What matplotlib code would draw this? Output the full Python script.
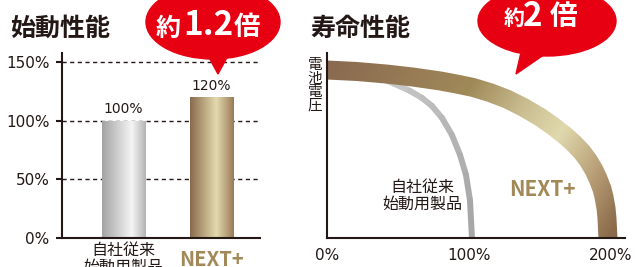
import matplotlib
matplotlib.use('Agg')
import matplotlib.pyplot as plt
import numpy as np
from matplotlib.collections import LineCollection
from matplotlib.colors import LinearSegmentedColormap
from matplotlib.patches import Ellipse, Polygon

# start performance (bars)
categories = ['自社従来\n始動用製品', 'NEXT+']
start_values = [100, 120]
start_ticks = [0, 50, 100, 150]
start_ticklabels = ['0%', '50%', '100%', '150%']

# life performance (voltage vs. life %)
old_life = [0, 19.7, 37.3, 47.9, 58.5, 66.9, 73.9, 81.0, 88.0, 93.7, 97.9, 100.7, 102.1]
old_volt = [0.908, 0.903, 0.865, 0.832, 0.795, 0.757, 0.714, 0.649, 0.557, 0.449, 0.341,
            0.205, 0.0]
new_life = [0, 21.1, 42.3, 60.6, 79.6, 91.5, 102.8, 114.8, 126.8, 138.7, 150.0, 159.2,
            167.6, 173.9, 179.6, 183.8, 188.0, 190.8, 193.7, 195.1, 196.5, 197.2, 197.9]
new_volt = [0.908, 0.900, 0.886, 0.870, 0.849, 0.832, 0.814, 0.786, 0.751, 0.705, 0.654,
            0.605, 0.554, 0.511, 0.465, 0.422, 0.368, 0.322, 0.265, 0.222, 0.162, 0.108, 0.0]
life_ticks = [0, 100, 200]
life_ticklabels = ['0%', '100%', '200%']

DARK = '#231815'
GOLD_TXT = '#a38858'
RED = '#e60012'
NUMFONT = 'DejaVu Sans'

plt.rcParams['font.family'] = ['Noto Sans CJK JP', 'DejaVu Sans']

fig = plt.figure(figsize=(6.36, 2.67), dpi=100)
W, H = 636.0, 267.0


def px_axes(x0, x1, ytop, ybot):
	return fig.add_axes([x0 / W, 1 - ybot / H, (x1 - x0) / W, (ybot - ytop) / H])


def style_spines(ax):
	for s in ['top', 'right']:
		ax.spines[s].set_visible(False)
	for s in ['left', 'bottom']:
		ax.spines[s].set_color(DARK)
		ax.spines[s].set_linewidth(1.5)
		ax.spines[s].set_zorder(5)
	ax.patch.set_alpha(0)


# ---------------- left: bars ----------------
ax1 = px_axes(62, 260, 53, 238)
style_spines(ax1)
xpos = np.arange(len(categories))
bars = ax1.bar(xpos, start_values, width=0.49, color='none', zorder=3)

bar_stops = [
	[(0, '#a3a3a3'), (0.68, '#f5f5f5'), (1, '#b3b3b3')],
	[(0, '#8a6a4c'), (0.6, '#e3daad'), (1, '#9a7a58')],
]
grad = np.linspace(0, 1, 256).reshape(1, -1)
for b, stops in zip(bars, bar_stops):
	cmap = LinearSegmentedColormap.from_list('g', stops)
	im = ax1.imshow(grad, extent=(b.get_x(), b.get_x() + b.get_width(), 0, b.get_height()),
					aspect='auto', cmap=cmap, zorder=3)
	im.set_clip_path(b)

for y in start_ticks[1:]:
	ax1.axhline(y, color=DARK, lw=1.0, ls=(0, (3, 2.5)), zorder=1)

ax1.set_xlim(-0.699, 1.551)
ax1.set_ylim(0, 157.7)
ax1.set_yticks(start_ticks)
ax1.set_yticklabels(start_ticklabels, family=NUMFONT)
ax1.tick_params(axis='y', length=4, width=1.5, color=DARK, pad=5, labelsize=11, labelcolor=DARK)
ax1.set_xticks([])

for x, v in zip(xpos, start_values):
	ax1.text(x, v + 4, '%d%%' % v, ha='center', va='bottom', fontsize=10, color=DARK,
			 family=NUMFONT)

ax1.annotate(categories[0], xy=(0, 0), xycoords=ax1.get_xaxis_transform(),
			 xytext=(0, -3), textcoords='offset points', ha='center', va='top',
			 fontsize=11.5, color=DARK, linespacing=0.95)
ax1.annotate(categories[1], xy=(1, 0), xycoords=ax1.get_xaxis_transform(),
			 xytext=(0, -20.5), textcoords='offset points', ha='center', va='baseline',
			 fontsize=14.5, fontweight='bold', color=GOLD_TXT)

# ---------------- right: life curves ----------------
ax2 = px_axes(327, 625, 53, 238)
style_spines(ax2)
ax2.set_xlim(0, 209.9)
ax2.set_ylim(0, 1)

# old product: thin silver line
pts = np.column_stack([old_life, old_volt])
segs = np.stack([pts[:-1], pts[1:]], axis=1)
silver = LinearSegmentedColormap.from_list('s', ['#d2d2d2', '#a7a7a7'])
lc = LineCollection(segs, colors=silver(np.linspace(0, 1, len(segs))), linewidths=4.3,
					capstyle='round', joinstyle='round', zorder=2)
ax2.add_collection(lc)

# NEXT+: wide band, outline built in pixel space, filled with a diagonal gradient
p = ax2.transData.transform(np.column_stack([new_life, new_volt]))
tg = np.gradient(p, axis=0)
tg = tg / np.linalg.norm(tg, axis=1)[:, None]
nrm = np.column_stack([-tg[:, 1], tg[:, 0]])
hw = 9.5
outline = np.vstack([p + hw * nrm, (p - hw * nrm)[::-1]])
band = Polygon(ax2.transData.inverted().transform(outline), closed=True,
			   facecolor='none', edgecolor='none')
ax2.add_patch(band)

ny, nx = 185, 298
rows, cols = np.mgrid[0:ny, 0:nx]
t = np.clip((cols + 0.6 * rows - 10) / 382.0, 0, 1)
gold = LinearSegmentedColormap.from_list(
	'gold', [(0, '#8a6a50'), (0.4, '#a08959'), (0.58, '#cbbf92'), (0.71, '#e0d9ad'),
			 (0.86, '#b9a078'), (1, '#8b6a4a')])
im2 = ax2.imshow(gold(t), extent=(0, 209.9, 0, 1), origin='upper', aspect='auto', zorder=3)
im2.set_clip_path(band)
ax2.set_xlim(0, 209.9)
ax2.set_ylim(0, 1)

ax2.set_yticks([])
ax2.set_xticks(life_ticks)
ax2.set_xticklabels(life_ticklabels, family=NUMFONT)
ax2.tick_params(axis='x', length=0, pad=7, labelsize=11, labelcolor=DARK)

ax2.text(66.9, 0.227, '自社従来\n始動用製品', ha='center', va='center', fontsize=11.5,
		 color=DARK, linespacing=1.0)
ax2.text(152, 0.26, 'NEXT+', ha='center', va='center', fontsize=15,
		 fontweight='bold', color=GOLD_TXT)
ax2.text(-0.04, 0.825, '電\n池\n電\n圧', transform=ax2.transAxes, ha='center', va='center',
		 fontsize=10.5, color=DARK, linespacing=0.95)

# ---------------- overlay: titles + bubbles ----------------
ov = fig.add_axes([0, 0, 1, 1])
ov.set_xlim(0, W)
ov.set_ylim(H, 0)
ov.axis('off')
ov.patch.set_alpha(0)

ov.text(10, 29, '始動性能', ha='left', va='center', fontsize=18, fontweight='bold', color=DARK)
ov.text(310, 29, '寿命性能', ha='left', va='center', fontsize=18, fontweight='bold', color=DARK)

ov.add_patch(Ellipse((213, 22), 134, 74, color=RED, zorder=10))
ov.add_patch(Polygon([(206, 52), (230, 52), (218, 74)], closed=True, color=RED, zorder=10))
ov.add_patch(Ellipse((547, 21), 138, 70, color=RED, zorder=10))
ov.add_patch(Polygon([(522, 48), (548, 52), (516, 74)], closed=True, color=RED, zorder=10))

ov.text(156, 36, '約', ha='left', va='baseline', fontsize=18, fontweight='bold', color='white', zorder=11)
ov.text(183, 35, '1.2', ha='left', va='baseline', fontsize=24, fontweight='bold', color='white', zorder=11)
ov.text(234, 35, '倍', ha='left', va='baseline', fontsize=19, fontweight='bold', color='white', zorder=11)

ov.text(504, 25, '約', ha='left', va='baseline', fontsize=15, fontweight='bold', color='white', zorder=11)
ov.text(523, 26, '2', ha='left', va='baseline', fontsize=24, fontweight='bold', color='white', zorder=11)
ov.text(550, 25, '倍', ha='left', va='baseline', fontsize=20, fontweight='bold', color='white', zorder=11)

fig.savefig('out.png', dpi=100)
